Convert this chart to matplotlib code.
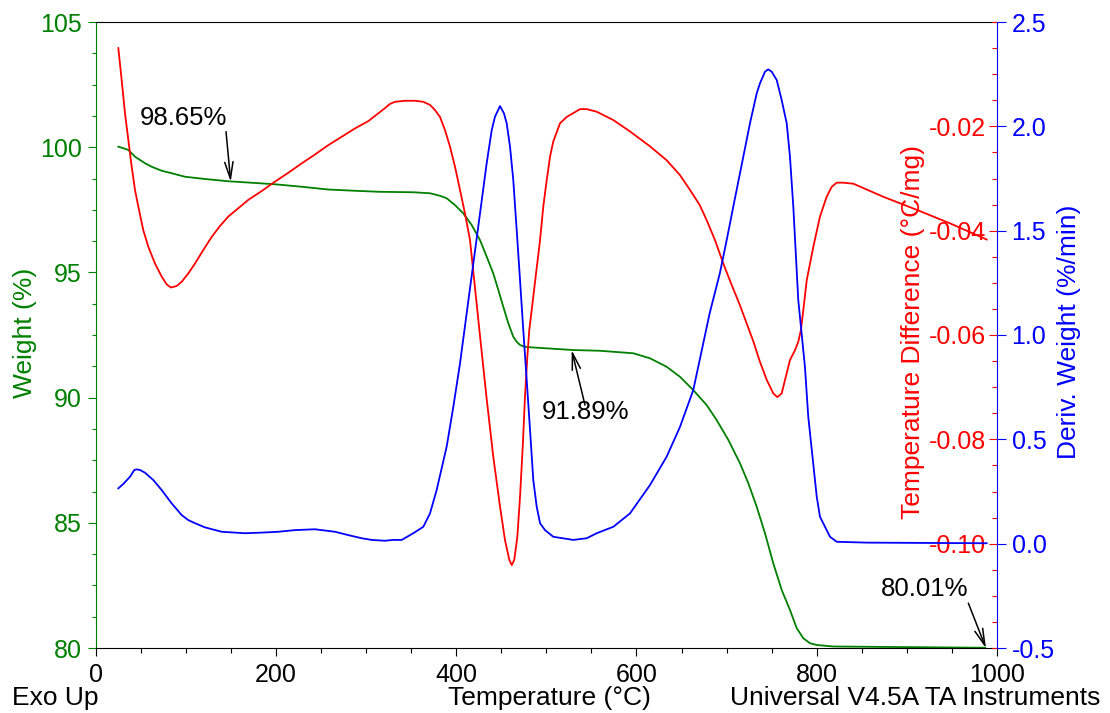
import numpy as np
import matplotlib
matplotlib.use("Agg")
import matplotlib.pyplot as plt
from matplotlib.ticker import MultipleLocator, FixedLocator

plt.rcParams['font.family'] = ['Liberation Sans', 'DejaVu Sans']

GREEN = '#008000'
RED = '#ff0000'
BLUE = '#0000ff'

# weight (TG) curve
temp_tg = [25.1, 30.6, 36.2, 43.6, 54.7, 62.1, 73.2, 84.3, 99.1, 121.3,
           147.1, 173.1, 198.9, 228.6, 258.1, 287.7, 313.6, 352.4, 370.9, 382.0,
           389.4, 398.6, 407.8, 417.2, 426.4, 433.8, 441.1, 446.7, 452.2, 457.8,
           463.3, 467.1, 470.8, 476.3, 481.9, 529.9, 559.5, 596.5, 615.0, 633.5,
           648.3, 663.0, 677.9, 689.0, 701.9, 714.8, 724.1, 733.4, 742.6, 751.8,
           761.1, 770.3, 777.8, 785.1, 792.5, 800.0, 818.4, 987.0]
weight = [100.02, 99.96, 99.89, 99.62, 99.36, 99.22, 99.06, 98.96, 98.82, 98.73,
          98.64, 98.58, 98.52, 98.42, 98.31, 98.26, 98.22, 98.20, 98.16, 98.06,
          97.96, 97.69, 97.36, 96.89, 96.29, 95.63, 94.96, 94.30, 93.63, 92.97,
          92.43, 92.23, 92.10, 92.03, 92.01, 91.90, 91.87, 91.77, 91.57, 91.23,
          90.83, 90.30, 89.70, 89.10, 88.31, 87.38, 86.58, 85.64, 84.58, 83.38,
          82.32, 81.52, 80.79, 80.39, 80.19, 80.12, 80.06, 80.01]

# temperature difference (DTA) curve
temp_dta = [25.1, 28.8, 32.5, 36.2, 39.9, 43.6, 47.3, 52.8, 58.4, 65.8,
            73.2, 78.8, 83.5, 89.9, 95.4, 102.7, 110.2, 119.4, 128.7, 137.9,
            147.1, 158.2, 169.3, 184.2, 198.9, 213.7, 228.6, 243.3, 258.1, 272.9,
            287.7, 302.5, 313.6, 321.0, 326.5, 332.1, 343.2, 354.3, 363.5, 371.0,
            376.5, 382.0, 387.5, 393.1, 398.6, 404.2, 409.7, 415.3, 426.1, 433.5,
            441.1, 448.6, 454.1, 458.9, 461.6, 464.4, 467.8, 470.8, 473.8, 476.3,
            478.9, 481.1, 493.0, 496.6, 500.4, 504.1, 507.7, 515.2, 522.6, 537.4,
            544.8, 555.9, 574.3, 593.0, 614.7, 633.5, 648.0, 659.4, 670.2, 677.9,
            687.1, 696.3, 705.6, 714.8, 722.3, 729.6, 736.9, 744.5, 751.8, 756.2,
            761.1, 766.7, 770.3, 775.9, 779.5, 782.5, 785.1, 788.9, 796.2, 803.6,
            811.0, 816.6, 822.1, 829.5, 840.6, 873.8, 910.9, 947.9, 988.6]
temp_diff = [-0.0050, -0.0111, -0.0175, -0.0226, -0.0277, -0.0322, -0.0354, -0.0399, -0.0431, -0.0463,
             -0.0488, -0.0503, -0.0509, -0.0506, -0.0498, -0.0482, -0.0463, -0.0437, -0.0412, -0.0391,
             -0.0373, -0.0357, -0.0341, -0.0324, -0.0306, -0.0289, -0.0271, -0.0254, -0.0236, -0.0220,
             -0.0204, -0.0190, -0.0175, -0.0165, -0.0157, -0.0153, -0.0151, -0.0151, -0.0153, -0.0159,
             -0.0169, -0.0182, -0.0207, -0.0239, -0.0277, -0.0322, -0.0367, -0.0418, -0.0597, -0.0718,
             -0.0833, -0.0929, -0.0993, -0.1031, -0.1041, -0.1031, -0.0987, -0.0910, -0.0814, -0.0718,
             -0.0642, -0.0590, -0.0418, -0.0354, -0.0303, -0.0258, -0.0229, -0.0194, -0.0182, -0.0167,
             -0.0167, -0.0172, -0.0188, -0.0210, -0.0238, -0.0265, -0.0293, -0.0322, -0.0351, -0.0380,
             -0.0418, -0.0463, -0.0504, -0.0543, -0.0578, -0.0612, -0.0651, -0.0686, -0.0712, -0.0719,
             -0.0712, -0.0673, -0.0648, -0.0629, -0.0613, -0.0590, -0.0552, -0.0495, -0.0431, -0.0373,
             -0.0335, -0.0316, -0.0308, -0.0308, -0.0310, -0.0335, -0.0360, -0.0386, -0.0417]

# derivative weight (DTG) curve
temp_dtg = [25.1, 30.6, 38.1, 42.8, 45.5, 49.2, 54.7, 63.9, 73.2, 84.3,
            95.4, 102.7, 110.2, 121.3, 139.8, 154.6, 165.6, 184.2, 202.6, 221.1,
            243.3, 250.7, 265.5, 280.3, 295.1, 306.2, 321.0, 330.2, 339.5, 352.4,
            363.5, 370.9, 378.3, 389.4, 396.8, 404.2, 411.6, 419.0, 426.4, 433.8,
            439.4, 443.0, 448.6, 453.0, 456.0, 459.7, 463.3, 467.1, 470.8, 474.4,
            478.2, 481.9, 485.5, 489.3, 493.0, 498.5, 507.7, 529.9, 544.8, 555.9,
            574.3, 592.8, 615.0, 633.5, 648.3, 663.0, 681.2, 692.5, 700.1, 707.4,
            718.5, 725.9, 733.4, 737.0, 742.6, 746.2, 750.0, 755.6, 761.1, 766.7,
            770.3, 774.0, 779.5, 783.2, 786.9, 790.6, 800.0, 803.6, 811.0,
            814.7, 822.2, 855.4, 988.6]
deriv = [0.265, 0.286, 0.321, 0.353, 0.356, 0.353, 0.340, 0.305, 0.257, 0.193,
         0.137, 0.113, 0.098, 0.078, 0.057, 0.053, 0.050, 0.053, 0.057, 0.065,
         0.069, 0.065, 0.057, 0.041, 0.026, 0.018, 0.014, 0.018, 0.018, 0.050,
         0.081, 0.145, 0.257, 0.465, 0.656, 0.864, 1.104, 1.343, 1.583, 1.823,
         1.982, 2.046, 2.097, 2.062, 2.014, 1.902, 1.743, 1.503, 1.263, 1.024,
         0.784, 0.545, 0.305, 0.177, 0.098, 0.065, 0.033, 0.018, 0.026, 0.050,
         0.081, 0.145, 0.281, 0.417, 0.560, 0.736, 1.104, 1.296, 1.455, 1.615,
         1.854, 2.014, 2.158, 2.206, 2.262, 2.273, 2.262, 2.222, 2.126, 2.014,
         1.854, 1.615, 1.168, 1.008, 0.848, 0.608, 0.225, 0.129, 0.065,
         0.033, 0.009, 0.005, 0.002]

# annotations: label, text position, arrow tail, arrow tip
notes = [("98.65%", (96.9, 101.17), (144.6, 100.62), (149.8, 98.62)),
         ("91.89%", (543.4, 89.42), (542.9, 89.70), (528.1, 91.90)),
         ("80.01%", (919.6, 82.36), (968.2, 81.79), (987.8, 79.99))]

W, H = 1110, 713
fig = plt.figure(figsize=(W / 100, H / 100), dpi=100)
left, right, top, bottom = 95.7, 997, 22, 648
ax = fig.add_axes([left / W, (H - bottom) / H, (right - left) / W, (bottom - top) / H])
ax2 = ax.twinx()
ax3 = ax.twinx()

fs = 18
lfs = 19

# green weight axis
ax.plot(temp_tg, weight, color=GREEN, lw=1.3, solid_joinstyle='round')
ax.set_xlim(0, 1000)
ax.set_ylim(80, 105)
ax.xaxis.set_major_locator(MultipleLocator(200))
ax.xaxis.set_minor_locator(MultipleLocator(50))
ax.yaxis.set_major_locator(MultipleLocator(5))
ax.yaxis.set_minor_locator(MultipleLocator(1.25))
ax.tick_params(axis='x', which='major', direction='out', length=6, width=0.8,
               labelsize=fs, pad=5, colors='black')
ax.tick_params(axis='x', which='minor', direction='out', length=3.5, width=0.8)
ax.tick_params(axis='y', which='major', direction='out', length=6, width=0.8,
               labelsize=fs, pad=4, colors=GREEN)
ax.tick_params(axis='y', which='minor', direction='out', length=3, width=0.8, colors=GREEN)
ax.spines['left'].set_color(GREEN)
ax.spines['right'].set_visible(False)
for s in ('top', 'bottom', 'left'):
    ax.spines[s].set_linewidth(0.8)

# red temperature difference axis, labels inside the frame
ax2.plot(temp_dta, temp_diff, color=RED, lw=1.3, solid_joinstyle='round')
ax2.set_ylim(-0.12, 0.0)
ax2.yaxis.set_major_locator(FixedLocator([-0.10, -0.08, -0.06, -0.04, -0.02]))
ax2.yaxis.set_minor_locator(MultipleLocator(0.005))
ax2.yaxis.set_major_formatter(plt.FuncFormatter(lambda v, p: "%.2f" % v))
ax2.tick_params(axis='y', which='major', direction='in', length=6, width=0.8,
                labelsize=fs, pad=-8, colors=RED)
ax2.tick_params(axis='y', which='minor', direction='in', length=3.5, width=0.8, colors=RED)
for lbl in ax2.get_yticklabels():
    lbl.set_horizontalalignment('right')
for s in ax2.spines.values():
    s.set_visible(False)

# blue derivative axis
ax3.plot(temp_dtg, deriv, color=BLUE, lw=1.3, solid_joinstyle='round')
ax3.set_ylim(-0.5, 2.5)
ax3.yaxis.set_major_locator(MultipleLocator(0.5))
ax3.yaxis.set_major_formatter(plt.FuncFormatter(lambda v, p: "%.1f" % v))
ax3.tick_params(axis='y', which='major', direction='out', length=6.5, width=0.8,
                labelsize=fs, pad=4, colors=BLUE)
for s in ('top', 'bottom', 'left'):
    ax3.spines[s].set_visible(False)
ax3.spines['right'].set_color(BLUE)
ax3.spines['right'].set_linewidth(0.8)

for label, txt, tail, tip in notes:
    ax.text(txt[0], txt[1], label, fontsize=18.5, ha='center', va='center', zorder=5)
    ax.annotate('', xy=tip, xytext=tail, annotation_clip=False,
                arrowprops=dict(arrowstyle='->,head_length=1.2,head_width=0.3',
                                color='black', lw=1.1, shrinkA=0, shrinkB=0,
                                mutation_scale=10))

fig.text(25 / W, 1 - 333 / H, "Weight (%)", color=GREEN, fontsize=lfs,
         rotation=90, ha='center', va='center')
fig.text(913 / W, 1 - 332 / H, "Temperature Difference (°C/mg)", color=RED, fontsize=lfs,
         rotation=90, ha='center', va='center')
fig.text(1069 / W, 1 - 332 / H, "Deriv. Weight (%/min)", color=BLUE, fontsize=lfs,
         rotation=90, ha='center', va='center')
fig.text(11.7 / W, 1 - 698 / H, "Exo Up", fontsize=lfs, ha='left', va='center')
fig.text(549.5 / W, 1 - 698 / H, "Temperature (°C)", fontsize=lfs, ha='center', va='center')
fig.text(1100 / W, 1 - 698 / H, "Universal V4.5A TA Instruments", fontsize=lfs,
         ha='right', va='center')

fig.savefig("out.png", dpi=100)
